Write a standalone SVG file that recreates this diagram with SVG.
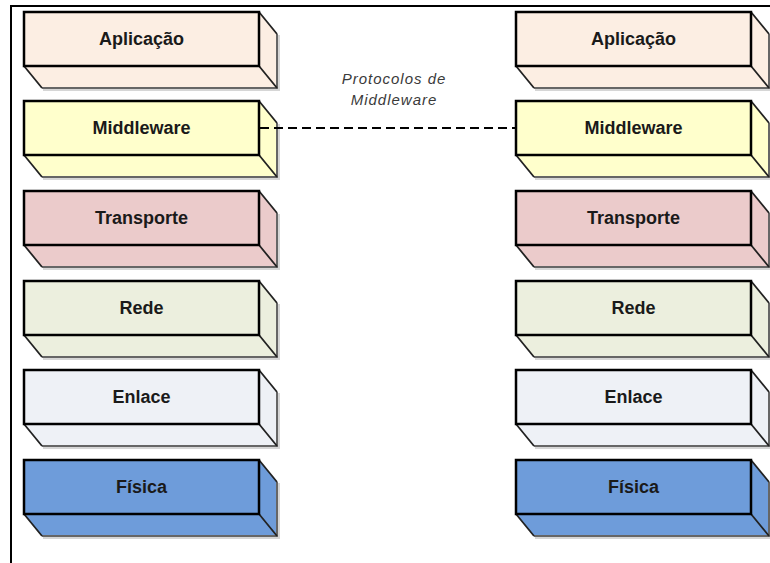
<svg xmlns="http://www.w3.org/2000/svg" width="770" height="563" viewBox="0 0 770 563">
  <style>
    .front { stroke: #000; stroke-width: 2.5; }
    .face { stroke: none; }
    .edge { fill: none; stroke: #222; stroke-width: 1.8; }
    .outer { fill: none; stroke: #666; stroke-width: 2; }
    .shade { fill: none; stroke: #d6d6d6; stroke-width: 2; }
    .label { font-family: "Liberation Sans", Arial, sans-serif; font-size: 18px; font-weight: bold; fill: #1a1a1a; text-anchor: middle; }
    .note { font-family: "Liberation Sans", Arial, sans-serif; font-size: 15px; font-style: italic; letter-spacing: 1px; fill: #3a3a3a; text-anchor: middle; }
    .app { fill: #FCEEE3; }
    .mid { fill: #FFFFCC; }
    .tra { fill: #EBCBCB; }
    .red { fill: #ECEFDE; }
    .enl { fill: #EEF1F6; }
    .fis { fill: #6E9CDA; }
  </style>
  <defs>
    <!-- extruded slab: front face, side and bottom faces share the fill of the group -->
    <g id="slab">
      <path class="face" d="M235,0 L253,22 L253,76 L235,54 Z"/>
      <path class="face" d="M0,54 L235,54 L253,76 L18,76 Z"/>
      <path class="shade" d="M255,23 V78 H19"/>
      <path class="outer" d="M253,22 V76 H18"/>
      <path class="edge" d="M235,0 L253,22 M0,54 L18,76 M235,54 L253,76"/>
      <rect class="front" x="0" y="0" width="235" height="54"/>
    </g>
  </defs>

  <!-- frame -->
  <path d="M11,563 V6 H770" fill="none" stroke="#000" stroke-width="2"/>

  <!-- left stack -->
  <g id="left-aplicacao" class="app" transform="translate(24,12)">
    <use href="#slab"/>
    <text class="label" x="117.5" y="33">Aplicação</text>
  </g>
  <g id="left-middleware" class="mid" transform="translate(24,101)">
    <use href="#slab"/>
    <text class="label" x="117.5" y="33">Middleware</text>
  </g>
  <g id="left-transporte" class="tra" transform="translate(24,191)">
    <use href="#slab"/>
    <text class="label" x="117.5" y="33">Transporte</text>
  </g>
  <g id="left-rede" class="red" transform="translate(24,281)">
    <use href="#slab"/>
    <text class="label" x="117.5" y="33">Rede</text>
  </g>
  <g id="left-enlace" class="enl" transform="translate(24,370)">
    <use href="#slab"/>
    <text class="label" x="117.5" y="33">Enlace</text>
  </g>
  <g id="left-fisica" class="fis" transform="translate(24,460)">
    <use href="#slab"/>
    <text class="label" x="117.5" y="33">Física</text>
  </g>

  <!-- right stack -->
  <g id="right-aplicacao" class="app" transform="translate(516,12)">
    <use href="#slab"/>
    <text class="label" x="117.5" y="33">Aplicação</text>
  </g>
  <g id="right-middleware" class="mid" transform="translate(516,101)">
    <use href="#slab"/>
    <text class="label" x="117.5" y="33">Middleware</text>
  </g>
  <g id="right-transporte" class="tra" transform="translate(516,191)">
    <use href="#slab"/>
    <text class="label" x="117.5" y="33">Transporte</text>
  </g>
  <g id="right-rede" class="red" transform="translate(516,281)">
    <use href="#slab"/>
    <text class="label" x="117.5" y="33">Rede</text>
  </g>
  <g id="right-enlace" class="enl" transform="translate(516,370)">
    <use href="#slab"/>
    <text class="label" x="117.5" y="33">Enlace</text>
  </g>
  <g id="right-fisica" class="fis" transform="translate(516,460)">
    <use href="#slab"/>
    <text class="label" x="117.5" y="33">Física</text>
  </g>

  <!-- connectors: drawn last so the dashed link runs over the side face -->
  <g id="connectors">
    <line x1="260" y1="128" x2="515" y2="128" stroke="#000" stroke-width="2" stroke-dasharray="9 5"/>
    <text class="note" x="394" y="84">Protocolos de</text>
    <text class="note" x="394" y="105">Middleware</text>
  </g>
</svg>
